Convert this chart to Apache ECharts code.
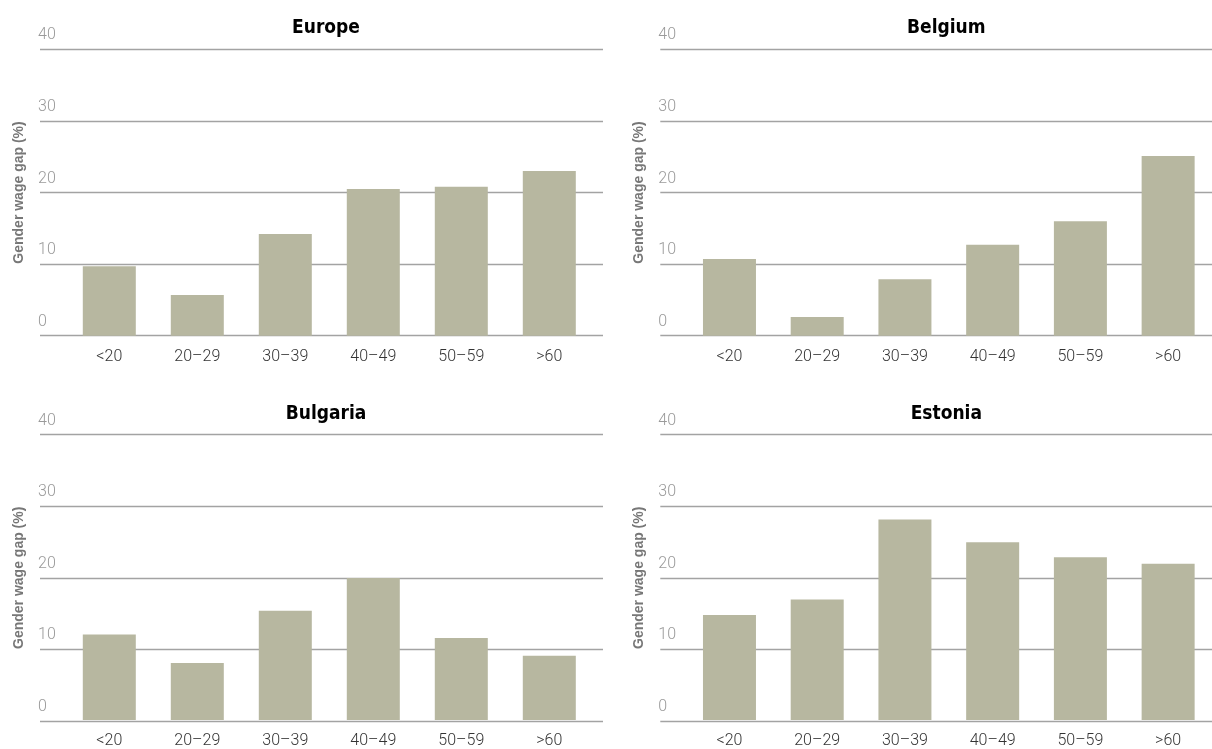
<!DOCTYPE html>
<html>
<head>
<meta charset="utf-8">
<script src="https://cdn.jsdelivr.net/npm/echarts@6/dist/echarts.min.js"></script>
<style>
html,body{margin:0;padding:0;background:#fff;}
#chart{width:1212px;height:749px;}
</style>
</head>
<body>
<div id="chart"></div>
<script>
const categories = ['<20', '20–29', '30–39', '40–49', '50–59', '>60'];
const panelTitles = ['Europe', 'Belgium', 'Bulgaria', 'Estonia'];
const europe   = [9.7, 5.7, 14.2, 20.5, 20.8, 23.0];
const belgium  = [10.7, 2.6, 7.9, 12.7, 16.0, 25.1];
const bulgaria = [12.0, 8.0, 15.3, 19.9, 11.5, 9.0];
const estonia  = [14.7, 16.9, 28.1, 24.9, 22.8, 21.9];
const yMin = 0, yMax = 40, yStep = 10;
const yAxisName = 'Gender wage gap (%)';

const panelData = [europe, belgium, bulgaria, estonia];
const BAR = '#b7b7a0';
const LABEL_FONT = 'Roboto, "Liberation Sans", sans-serif';
const TITLE_FONT = '"DejaVu Sans Condensed", "Liberation Sans Narrow", "Liberation Sans", sans-serif';

const chart = echarts.init(document.getElementById('chart'), null, {renderer: 'canvas'});

const grids = [], xAxes = [], yAxes = [], series = [], titles = [];
panelData.forEach((vals, p) => {
  const col = p % 2, row = Math.floor(p / 2);
  const dx = col * 620.3, dy = row * 385.3;
  const top = 49.3 + dy, height = 286.4;
  grids.push({left: 40 + dx, top: top, width: 563, height: height, containLabel: false});
  grids.push({left: 65.3 + dx, top: top, width: 528, height: height, containLabel: false});
  const gA = p * 2, gB = p * 2 + 1;
  xAxes.push({gridIndex: gA, type: 'value', min: 0, max: 1, show: false});
  yAxes.push({
    gridIndex: gA, type: 'value', min: yMin, max: yMax, interval: yStep,
    name: yAxisName, nameLocation: 'middle', nameGap: 14, nameRotate: 90,
    nameTextStyle: {color: '#777', fontSize: 14, fontWeight: 'bold', fontFamily: '"Liberation Sans", Arial, sans-serif'},
    axisLine: {show: false}, axisTick: {show: false},
    axisLabel: {inside: true, margin: -2, color: '#9a9a9a', fontSize: 16, fontWeight: 300,
      fontFamily: LABEL_FONT, verticalAlign: 'bottom', align: 'left', padding: [0, 0, 6, 0]},
    splitLine: {show: true, lineStyle: {color: '#a3a3a3', width: 1.3}}
  });
  xAxes.push({
    gridIndex: gB, type: 'category', data: categories,
    axisLine: {show: false}, axisTick: {show: false},
    axisLabel: {color: '#333', fontSize: 16, fontWeight: 300, fontFamily: LABEL_FONT, margin: 13}
  });
  yAxes.push({gridIndex: gB, type: 'value', min: yMin, max: yMax, interval: yStep, show: false, splitLine: {show: false}});
  series.push({
    type: 'bar', xAxisIndex: p * 2 + 1, yAxisIndex: p * 2 + 1,
    data: vals, barWidth: 53, itemStyle: {color: BAR}, silent: true, z: 3
  });
  titles.push({
    text: panelTitles[p], left: 321 + dx, top: 14 + dy, textAlign: 'center',
    textStyle: {fontFamily: TITLE_FONT, fontWeight: 'bold', fontSize: 19, color: '#000'}
  });
});

chart.setOption({
  animation: false,
  title: titles,
  grid: grids,
  xAxis: xAxes,
  yAxis: yAxes,
  series: series
});
</script>
</body>
</html>
